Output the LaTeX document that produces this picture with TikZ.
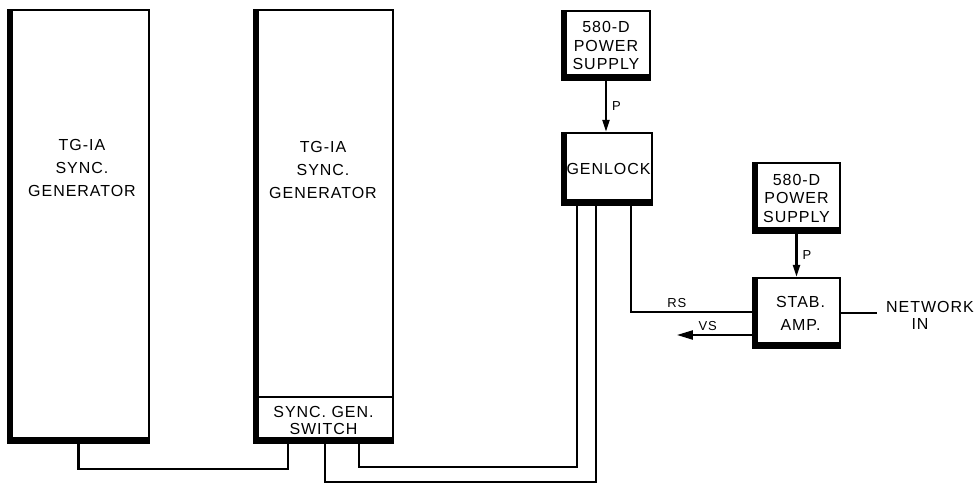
\documentclass[tikz,border=0pt]{standalone}
\usepackage{fontspec}
\newfontfamily\lettering[LetterSpace=6]{Liberation Sans}
\usetikzlibrary{arrows.meta, positioning, calc}

\begin{document}
\begin{tikzpicture}[x=1pt, y=-1pt, >={Triangle[length=12pt, width=7pt]},
    unit/.style={draw, line width=2.2pt, fill=white, inner sep=0pt, align=center,
        font=\lettering\fontsize{16}{23}\selectfont},
    psu/.style={unit, minimum width=88pt, minimum height=69pt,
        font=\lettering\fontsize{16}{18.5}\selectfont},
    wire/.style={line width=2.2pt},
    tag/.style={font=\lettering\fontsize{13}{15}\selectfont, inner sep=1pt}
]

% Marco de la imagen
\useasboundingbox (0,0) rectangle (976,486);

% Bordes gruesos (sombra a la izquierda y abajo)
\newcommand{\heavyleft}[1]{\fill (#1.north west) rectangle ([xshift=6pt]#1.south west);}
\newcommand{\heavybase}[1]{\fill ([yshift=7pt]#1.south west) rectangle (#1.south east);}

% ============ Generadores de sincronismo ============
\node[unit, minimum width=141pt, minimum height=433pt] (gen1) at (78.5, 226.5) {};
\node[unit, minimum width=139pt, minimum height=387pt] (gen2) at (323.5, 203.5) {};
\node[unit, minimum width=139pt, minimum height=46pt,
      font=\lettering\fontsize{16}{17}\selectfont] (switch) at (323.5, 420) {SYNC. GEN.\\SWITCH};
\heavyleft{gen1} \heavybase{gen1}
\heavyleft{gen2}
\heavyleft{switch} \heavybase{switch}
\node[align=center, font=\lettering\fontsize{16}{23}\selectfont] (gen1txt) at (82, 168) {TG-IA\\SYNC.\\GENERATOR};
\node[align=center, font=\lettering\fontsize{16}{23}\selectfont] (gen2txt) at (323, 170) {TG-IA\\SYNC.\\GENERATOR};

% ============ Genlock y fuentes ============
\node[psu] (ps1) at (606, 45.5) {580-D\\POWER\\SUPPLY};
\node[unit, minimum width=90pt, minimum height=72pt] (genlock) at (607, 169) {\hspace*{3pt}GENLOCK};
\node[psu, minimum width=87pt, minimum height=70pt] (ps2) at (796.5, 198) {580-D\\POWER\\SUPPLY};
\node[unit, minimum width=87pt, minimum height=70pt] (stab) at (796.5, 313) {\hspace*{8pt}STAB.\\\hspace*{8pt}AMP.};
\foreach \u in {ps1, genlock, ps2, stab} {\heavyleft{\u} \heavybase{\u}}
\node[align=center, inner sep=0pt, anchor=west,
      font=\lettering\fontsize{16}{17}\selectfont] (netin) at (886, 315) {NETWORK\\IN\hspace*{20pt}};

% Alimentacion
\draw[wire, ->] (ps1.south) -- node[tag, right=4pt] {P} (ps1.south |- genlock.north);
\draw[wire, ->] (ps2.south) -- node[tag, right=4pt] {P} (stab.north);

% ============ Cableado ============
\draw[wire] (gen1.south) -- ++(0, 24.5) -| ([xshift=35pt]switch.south west);
\draw[wire] ([xshift=72pt]switch.south west) -- ++(0, 38) -| ([xshift=35pt]genlock.south west);
\draw[wire] ([xshift=106pt]switch.south west) -- ++(0, 23) -| ([xshift=16pt]genlock.south west);
\draw[wire] ([xshift=70pt]genlock.south west) |- node[tag, above=2pt, pos=0.69] {RS} ([yshift=1pt]stab.west);

% Salida VS
\coordinate (vsout) at ([shift={(-75pt,-22pt)}]stab.west);
\draw[wire, -{Triangle[length=16pt, width=9pt]}] ([yshift=-22pt]stab.west) -- node[tag, above=2pt, pos=0.59] {VS} (vsout);

% Entrada de red
\draw[wire] (stab.east) -- ([xshift=-9pt]netin.west |- stab.east);

\end{tikzpicture}
\end{document}
